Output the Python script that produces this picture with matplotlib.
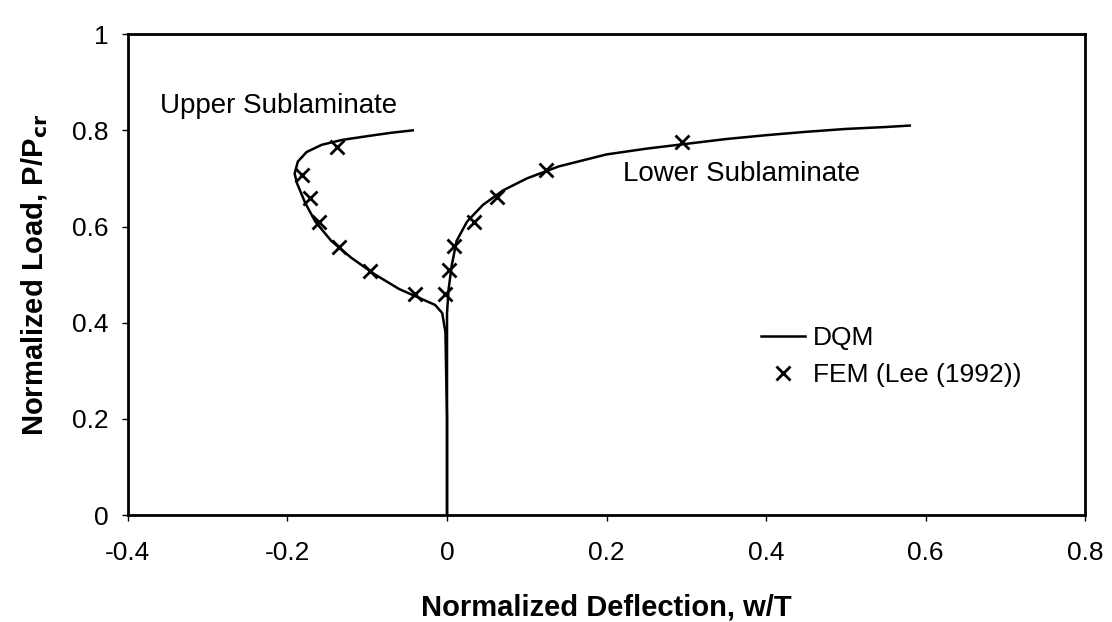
import matplotlib
matplotlib.use('Agg')
import matplotlib.pyplot as plt

# DQM solution, upper sublaminate branch (w/T, P/Pcr)
upper_dqm_w = [0.0, 0.0, -0.002, -0.006, -0.015, -0.03, -0.06, -0.09, -0.12, -0.145,
               -0.165, -0.178, -0.188, -0.191, -0.187, -0.176, -0.157, -0.132, -0.1, -0.07, -0.043]
upper_dqm_p = [0.0, 0.2, 0.38, 0.42, 0.437, 0.448, 0.47, 0.50, 0.535, 0.57,
               0.61, 0.65, 0.69, 0.71, 0.735, 0.755, 0.77, 0.78, 0.788, 0.795, 0.80]

# DQM solution, lower sublaminate branch
lower_dqm_w = [0.0, 0.0, 0.0, 0.002, 0.006, 0.012, 0.025, 0.045, 0.07, 0.1, 0.14,
               0.2, 0.25, 0.3, 0.35, 0.4, 0.45, 0.5, 0.55, 0.58]
lower_dqm_p = [0.0, 0.2, 0.42, 0.47, 0.52, 0.57, 0.61, 0.645, 0.675, 0.70, 0.725,
               0.75, 0.762, 0.772, 0.782, 0.79, 0.797, 0.803, 0.807, 0.81]

# FEM results (Lee 1992)
fem_w = [-0.138, -0.182, -0.172, -0.161, -0.135, -0.096, -0.04,
         -0.003, 0.003, 0.009, 0.034, 0.063, 0.124, 0.295]
fem_p = [0.765, 0.708, 0.66, 0.61, 0.558, 0.507, 0.46,
         0.46, 0.51, 0.56, 0.61, 0.662, 0.718, 0.775]

xticks = [-0.4, -0.2, 0, 0.2, 0.4, 0.6, 0.8]
xtick_labels = ['-0.4', '-0.2', '0', '0.2', '0.4', '0.6', '0.8']
yticks = [0, 0.2, 0.4, 0.6, 0.8, 1]
ytick_labels = ['0', '0.2', '0.4', '0.6', '0.8', '1']

plt.rcParams['font.family'] = ['Liberation Sans', 'DejaVu Sans']

fig = plt.figure(figsize=(11.12, 6.22), dpi=100)
ax = fig.add_axes([0.115, 0.172, 0.861, 0.773])

ax.plot(upper_dqm_w, upper_dqm_p, color='black', lw=1.8, label='DQM')
ax.plot(lower_dqm_w, lower_dqm_p, color='black', lw=1.8)
ax.plot(fem_w, fem_p, linestyle='none', marker='x', color='black',
        markersize=10, mew=2, label='FEM (Lee (1992))')

ax.text(-0.36, 0.85, 'Upper Sublaminate', fontsize=20, va='center', ha='left')
ax.text(0.22, 0.71, 'Lower Sublaminate', fontsize=20, va='center', ha='left')

ax.set_xlim(-0.4, 0.8)
ax.set_ylim(0, 1)
ax.set_xticks(xticks)
ax.set_xticklabels(xtick_labels)
ax.set_yticks(yticks)
ax.set_yticklabels(ytick_labels)
ax.tick_params(axis='both', labelsize=19, direction='out', length=4, width=1)
ax.tick_params(axis='x', pad=15)
ax.tick_params(axis='y', pad=10)
for s in ax.spines.values():
    s.set_linewidth(2)

ax.set_xlabel('Normalized Deflection, w/T', fontsize=21, fontweight='bold', labelpad=20)
ax.set_ylabel(r'Normalized Load, P/P$_{\mathbf{cr}}$', fontsize=21, fontweight='bold', labelpad=16)

ax.legend(loc='center left', bbox_to_anchor=(0.636, 0.33), frameon=False, fontsize=19,
          handlelength=1.7, handletextpad=0.3, labelspacing=0.5)

fig.savefig('out.png', dpi=100)
